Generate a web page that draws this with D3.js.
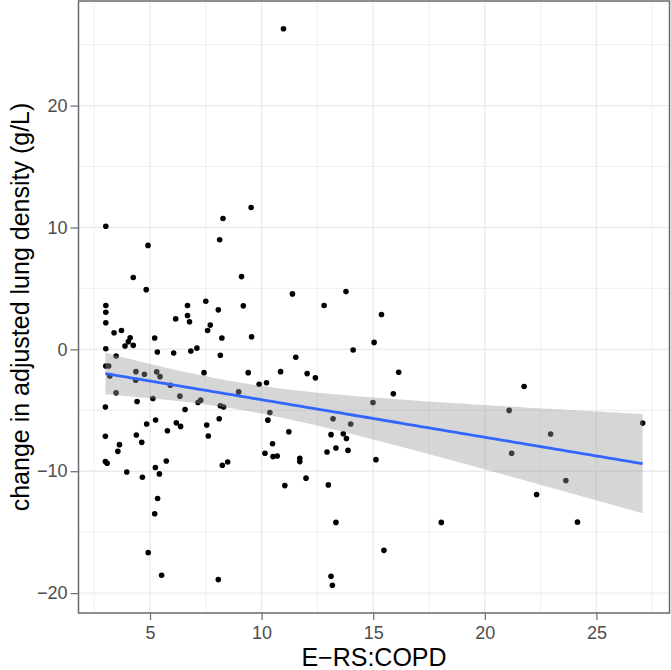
<!DOCTYPE html>
<html><head><meta charset="utf-8">
<script src="https://cdn.jsdelivr.net/npm/d3@7"></script>
<style>body{margin:0;background:#fff}svg{display:block}text{font-family:"Liberation Sans",Arial,sans-serif}</style>
</head><body><svg id="c" width="671" height="670"></svg>
<script>
// E-RS:COPD score
const ersX = [3.02,4.91,4.25,4.83,3.02,3.02,3.02,3.39,3.72,4.11,4.03,3.88,4.25,3.02,5.21,5.33,6.15,6.06,6.68,6.68,
6.77,6.83,7.1,7.5,8.06,7.7,7.58,8.22,8.15,8.12,8.27,9.53,9.1,9.18,9.55,9.4,9.89,10.22,10.85,7.42,
3.02,3.15,3.48,3.2,4.37,4.36,4.75,5.3,5.45,5.91,3.48,6.34,8.97,3.0,4.42,5.13,7.15,7.27,8.15,8.3,
6.57,10.37,3.0,4.85,5.25,4.39,4.63,3.63,3.56,5.78,6.18,6.37,7.54,7.61,8.1,10.28,10.49,10.15,10.51,10.7,
3.0,3.08,3.96,4.66,5.24,5.42,5.73,8.24,8.48,5.34,5.21,4.92,5.52,8.06,11.38,12.8,13.78,15.37,15.04,14.1,
11.53,12.04,12.41,16.14,15.9,14.99,13.2,13.99,11.22,13.11,13.66,13.8,13.33,12.93,13.87,11.71,11.71,15.12,11.99,11.04,
12.99,13.33,18.05,15.48,13.11,13.17,21.76,21.09,22.95,21.2,23.63,22.32,27.07,24.15,10.98];
// change in adjusted lung density (g/L)
const densityY = [10.1,8.53,5.89,4.9,3.6,3.05,2.18,1.36,1.55,0.95,0.63,0.27,0.33,0.05,0.93,-0.22,2.5,-0.3,3.6,2.78,
2.26,-0.13,0.1,3.95,3.24,1.99,1.55,0.93,-0.49,8.99,10.74,11.64,5.97,3.57,1.04,-1.91,-2.86,-2.75,-1.83,-1.91,
-1.36,-1.36,-0.55,-2.18,-1.83,-2.53,-2.04,-1.85,-2.24,-2.94,-3.57,-3.84,-3.49,-4.74,-4.28,-4.03,-4.36,-4.17,-4.63,-4.74,
-4.93,-5.18,-7.14,-6.13,-5.8,-7.03,-7.63,-7.82,-8.37,-6.68,-6.03,-6.32,-6.21,-7.11,-5.7,-5.81,-7.74,-8.53,-8.8,-8.75,
-9.21,-9.35,-10.06,-10.49,-9.7,-10.22,-9.16,-9.51,-9.24,-12.24,-13.49,-16.68,-18.53,-18.89,4.55,3.6,4.74,2.86,0.57,-0.05,
-0.65,-1.99,-2.34,-1.88,-3.65,-4.36,-5.7,-6.13,-6.76,-7.0,-6.92,-7.31,-8.1,-8.42,-8.29,-8.94,-9.21,-9.05,-10.57,-11.18,
-11.12,-14.2,-14.2,-16.49,-18.62,-19.35,-3.05,-5.01,-6.95,-8.53,-10.77,-11.91,-6.05,-14.18,26.3];
const xTicks = [5,10,15,20,25];
const yTicks = [-20,-10,0,10,20];
const xMinor = [2.5,7.5,12.5,17.5,22.5,27.5];
const yMinor = [-15,-5,5,15,25];
const xTitle = "E\u2212RS:COPD";
const yTitle = "change in adjusted lung density (g/L)";

const svg = d3.select("#c");
const L = 78.5, R = 669.5, T = 1, B = 613;
function padExt(a){const e=d3.extent(a);const p=(e[1]-e[0])*0.05;return [e[0]-p,e[1]+p];}
const x = d3.scaleLinear().domain(padExt(ersX)).range([L,R]);
const y = d3.scaleLinear().domain(padExt(densityY)).range([B,T]);

svg.append("rect").attr("x",L).attr("y",T).attr("width",R-L).attr("height",B-T).attr("fill","#fff");
const g = svg.append("g");
g.selectAll(".xm").data(xMinor).join("line").attr("x1",d=>x(d)).attr("x2",d=>x(d)).attr("y1",T).attr("y2",B).attr("stroke","#EBEBEB").attr("stroke-width",0.8);
g.selectAll(".ym").data(yMinor).join("line").attr("y1",d=>y(d)).attr("y2",d=>y(d)).attr("x1",L).attr("x2",R).attr("stroke","#EBEBEB").attr("stroke-width",0.8);
g.selectAll(".xM").data(xTicks).join("line").attr("x1",d=>x(d)).attr("x2",d=>x(d)).attr("y1",T).attr("y2",B).attr("stroke","#EBEBEB").attr("stroke-width",1.4);
g.selectAll(".yM").data(yTicks).join("line").attr("y1",d=>y(d)).attr("y2",d=>y(d)).attr("x1",L).attr("x2",R).attr("stroke","#EBEBEB").attr("stroke-width",1.4);

const pts = ersX.map((v,i)=>[v,densityY[i]]);
svg.append("g").selectAll("circle").data(pts).join("circle")
  .attr("cx",d=>x(d[0])).attr("cy",d=>y(d[1])).attr("r",2.8).attr("fill","#000");

// linear fit with 95% CI (as geom_smooth(method="lm"))
const n = pts.length, mx = d3.mean(ersX), my = d3.mean(densityY);
let sxx=0, sxy=0; pts.forEach(([a,b])=>{sxx+=(a-mx)**2; sxy+=(a-mx)*(b-my);});
const slope = sxy/sxx, icpt = my - slope*mx;
let sse=0; pts.forEach(([a,b])=>{sse+=(b-icpt-slope*a)**2;});
const s = Math.sqrt(sse/(n-2)), tq = 1.978;
const ex = d3.extent(ersX);
const grid = d3.range(0,81).map(i=>ex[0]+(ex[1]-ex[0])*i/80);
const fit = grid.map(a=>{const f=icpt+slope*a;const se=s*Math.sqrt(1/n+(a-mx)**2/sxx);return {a,f,lo:f-tq*se,hi:f+tq*se};});
svg.append("path").datum(fit)
  .attr("d",d3.area().x(d=>x(d.a)).y0(d=>y(d.lo)).y1(d=>y(d.hi)))
  .attr("fill","#999999").attr("fill-opacity",0.4);
svg.append("path").datum(fit)
  .attr("d",d3.line().x(d=>x(d.a)).y(d=>y(d.f)))
  .attr("fill","none").attr("stroke","#3366FF").attr("stroke-width",2.8);

svg.append("rect").attr("x",L).attr("y",T).attr("width",R-L).attr("height",B-T)
  .attr("fill","none").attr("stroke","#6a6a6a").attr("stroke-width",1.5);

const xa = svg.append("g").attr("transform",`translate(0,${B})`)
  .call(d3.axisBottom(x).tickValues(xTicks).tickSize(7).tickPadding(6).tickFormat(d3.format("d")));
const ya = svg.append("g").attr("transform",`translate(${L},0)`)
  .call(d3.axisLeft(y).tickValues(yTicks).tickSize(8).tickPadding(3).tickFormat(d=>d<0?"\u2212"+Math.abs(d):d));
[xa,ya].forEach(a=>{
  a.select(".domain").remove();
  a.selectAll(".tick line").attr("stroke","#6a6a6a").attr("stroke-width",1.2);
  a.selectAll(".tick text").attr("fill","#4D4D4D").style("font-size","18px").style("font-family","Liberation Sans, Arial, sans-serif");
});

svg.append("text").attr("x",(L+R)/2).attr("y",666).attr("text-anchor","middle")
  .style("font-size","25px").attr("fill","#000").text(xTitle);
svg.append("text").attr("transform",`translate(29,${(T+B)/2}) rotate(-90)`).attr("text-anchor","middle")
  .style("font-size","25px").attr("fill","#000").text(yTitle);
</script></body></html>
